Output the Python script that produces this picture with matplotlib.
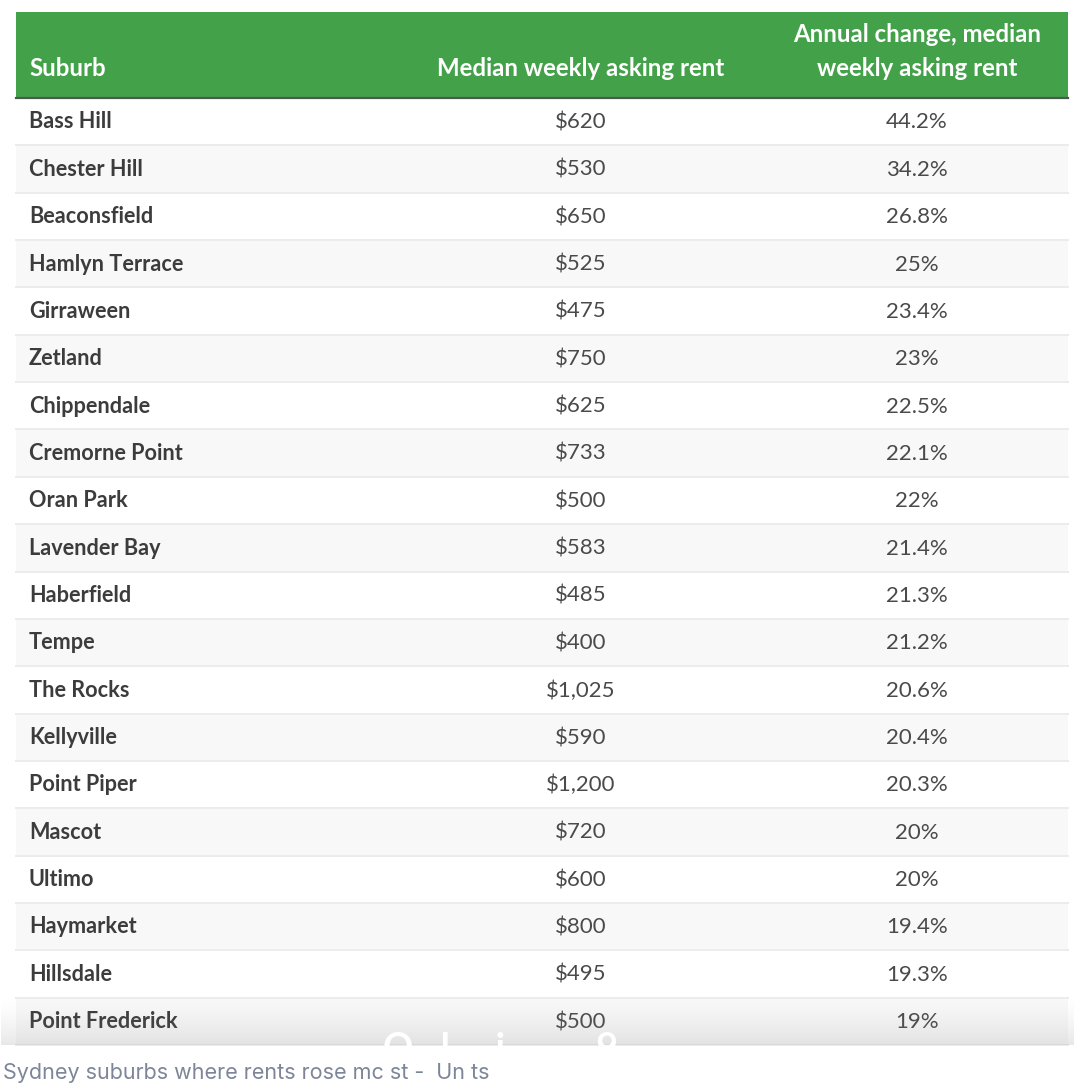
import numpy as np
import matplotlib
matplotlib.use("Agg")
import matplotlib.pyplot as plt
from matplotlib.patches import Rectangle

suburbs = ["Bass Hill", "Chester Hill", "Beaconsfield", "Hamlyn Terrace", "Girraween",
           "Zetland", "Chippendale", "Cremorne Point", "Oran Park", "Lavender Bay",
           "Haberfield", "Tempe", "The Rocks", "Kellyville", "Point Piper",
           "Mascot", "Ultimo", "Haymarket", "Hillsdale", "Point Frederick"]
rents = ["$620", "$530", "$650", "$525", "$475", "$750", "$625", "$733", "$500", "$583",
         "$485", "$400", "$1,025", "$590", "$1,200", "$720", "$600", "$800", "$495", "$500"]
changes = ["44.2%", "34.2%", "26.8%", "25%", "23.4%", "23%", "22.5%", "22.1%", "22%", "21.4%",
           "21.3%", "21.2%", "20.6%", "20.4%", "20.3%", "20%", "20%", "19.4%", "19.3%", "19%"]
headers = ["Suburb", "Median weekly asking rent", "Annual change, median", "weekly asking rent"]
caption = "Sydney suburbs where rents rose mc st -  Un ts"

LEFT, RIGHT = 16, 1068
HEAD_TOP, HEAD_BOTTOM = 12, 98
ROW_H = 47.35
FONT = "Lato"
TEXT_COL = "#3c3c3c"

fig = plt.figure(figsize=(10.8, 10.91), dpi=100)
ax = fig.add_axes([0, 0, 1, 1])
ax.set_xlim(0, 1080)
ax.set_ylim(1091, 0)
ax.axis("off")

# header
head_style = dict(color="white", fontsize=17.3, fontweight="bold", family=FONT, va="baseline")
ax.add_patch(Rectangle((LEFT, HEAD_TOP), RIGHT - LEFT, HEAD_BOTTOM - HEAD_TOP, color="#43a149", lw=0))
ax.plot([LEFT, RIGHT], [HEAD_BOTTOM, HEAD_BOTTOM], color="#4a5a4c", lw=1.6)
ax.text(29, 75.5, headers[0], **head_style)
ax.text(581, 75.5, headers[1], ha="center", **head_style)
ax.text(917, 42, headers[2], ha="center", **head_style)
ax.text(917, 75.5, headers[3], ha="center", **head_style)

# rows
for i, (s, r, c) in enumerate(zip(suburbs, rents, changes)):
    top = HEAD_BOTTOM + i * ROW_H
    base = top + 30.5
    if i % 2 == 1:
        ax.add_patch(Rectangle((LEFT, top), RIGHT - LEFT, ROW_H, color="#f8f8f8", lw=0))
    ax.plot([LEFT, RIGHT], [top + ROW_H, top + ROW_H], color="#ececec", lw=1.4)
    ax.text(29, base, s, color=TEXT_COL, fontsize=15.6, fontweight="bold", family=FONT, va="baseline")
    ax.text(581, base, r, color="#4a4a4a", fontsize=16, family=FONT, va="baseline", ha="center")
    ax.text(917, base, c, color="#4a4a4a", fontsize=16, family=FONT, va="baseline", ha="center")

# fade over the last row
fade = np.zeros((50, 1, 4))
fade[:, :, :3] = 0.55
fade[:, 0, 3] = np.linspace(0, 1, 50) ** 1.5 * 0.2
ax.imshow(fade, extent=(1, 1074, 1045, 995), aspect="auto", zorder=5, interpolation="bilinear")
ax.set_xlim(0, 1080)
ax.set_ylim(1091, 0)

# white text cut off by the bottom edge of the screenshot
ghost = ax.text(500, 1032, "O   l     i          9", color="white", fontsize=27, fontweight="bold",
                family=FONT, ha="center", va="top", zorder=6)
ghost.set_clip_path(Rectangle((0, 995), 1080, 50, transform=ax.transData))

ax.text(3, 1073, caption, color="#7d8598", fontsize=15.5, family="Inter", va="center")

fig.savefig("out.png", dpi=100)
